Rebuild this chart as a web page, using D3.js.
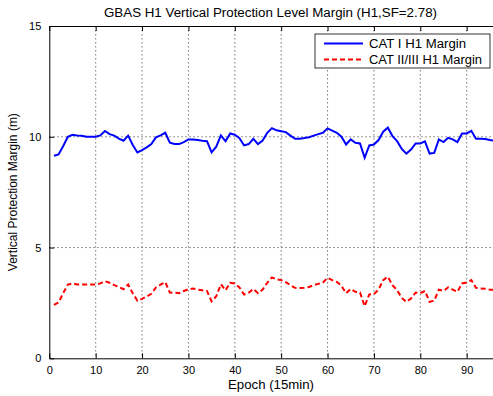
<!DOCTYPE html>
<html><head><meta charset="utf-8">
<script src="https://cdn.jsdelivr.net/npm/d3@7"></script>
<style>
html,body{margin:0;padding:0;background:#fff;}
svg{display:block;font-family:"Liberation Sans",Arial,sans-serif;}
</style></head>
<body>
<svg id="c" width="493" height="396"></svg>
<script>
const epochs = d3.range(1, 97);
const catI = [9.14,9.2,9.58,10.0,10.09,10.06,10.05,10.0,10.0,10.0,
  10.06,10.26,10.12,10.05,9.92,9.82,10.05,9.63,9.29,9.4,
  9.52,9.67,9.97,10.06,10.18,9.73,9.67,9.67,9.76,9.88,
  9.88,9.85,9.82,9.8,9.3,9.55,10.06,9.8,10.15,10.09,
  9.94,9.61,9.67,9.91,9.67,9.83,10.18,10.39,10.29,10.25,
  10.21,10.05,9.91,9.91,9.94,9.98,10.05,10.12,10.18,10.38,
  10.28,10.18,10.0,9.65,9.88,9.73,9.7,9.05,9.61,9.65,
  9.85,10.23,10.41,10.03,9.8,9.45,9.24,9.42,9.7,9.7,
  9.79,9.24,9.27,9.88,9.76,9.95,9.88,9.76,10.15,10.15,
  10.27,9.91,9.91,9.9,9.85,9.82];
const catII = [2.41,2.52,2.94,3.33,3.38,3.33,3.33,3.33,3.33,3.33,
  3.38,3.48,3.41,3.3,3.22,3.12,3.33,2.94,2.6,2.68,
  2.79,2.91,3.2,3.33,3.44,2.97,2.96,2.94,3.04,3.12,
  3.15,3.1,3.07,3.04,2.57,2.8,3.34,3.07,3.41,3.38,
  3.2,2.88,2.96,3.13,2.94,3.1,3.41,3.65,3.56,3.53,
  3.44,3.3,3.18,3.17,3.18,3.22,3.3,3.36,3.42,3.63,
  3.53,3.45,3.27,2.94,3.13,3.0,2.97,2.35,2.88,2.9,
  3.1,3.53,3.68,3.3,3.07,2.73,2.55,2.7,2.97,2.94,
  3.04,2.55,2.6,3.1,3.04,3.2,3.1,3.0,3.38,3.42,
  3.53,3.18,3.15,3.14,3.1,3.1];
const xTicks = [0,10,20,30,40,50,60,70,80,90];
const yTicks = [0,5,10,15];
const seriesNames = ["CAT I H1 Margin","CAT II/III H1 Margin"];
const titleText = "GBAS H1 Vertical Protection Level Margin (H1,SF=2.78)";

const svg = d3.select("#c");
const L = 49.3, R = 494.5, T = 26, B = 358.3;
const x = d3.scaleLinear().domain([0,96]).range([L,R]);
const y = d3.scaleLinear().domain([0,15]).range([B,T]);

// grid
const g = svg.append("g");
g.selectAll(".gx").data(xTicks.filter(d=>d>0)).join("line")
  .attr("x1",d=>x(d)).attr("x2",d=>x(d)).attr("y1",T).attr("y2",B)
  .attr("stroke","#555").attr("stroke-width",0.8).attr("stroke-dasharray","1.5,2.5");
g.selectAll(".gy").data(yTicks.filter(d=>d>0&&d<15)).join("line")
  .attr("x1",L).attr("x2",R).attr("y1",d=>y(d)).attr("y2",d=>y(d))
  .attr("stroke","#555").attr("stroke-width",0.8).attr("stroke-dasharray","1.5,2.5");

// axes
const fs = "11px";
const xAxis = svg.append("g").attr("transform",`translate(0,${B})`)
  .call(d3.axisBottom(x).tickValues(xTicks).tickSizeInner(-5).tickSizeOuter(0).tickPadding(8));
const xTop = svg.append("g").attr("transform",`translate(0,${T})`)
  .call(d3.axisTop(x).tickValues(xTicks).tickSizeInner(-5).tickSizeOuter(0).tickFormat(""));
const yAxis = svg.append("g").attr("transform",`translate(${L},0)`)
  .call(d3.axisLeft(y).tickValues(yTicks).tickSizeInner(-5).tickSizeOuter(0).tickPadding(8));
[xAxis,xTop,yAxis].forEach(a=>{
  a.selectAll("text").attr("font-size",fs).attr("fill","#000").attr("font-family","Liberation Sans, Arial, sans-serif");
  a.select(".domain").attr("stroke","#000");
  a.selectAll(".tick line").attr("stroke","#000");
});

// lines
const line = d3.line().x((d,i)=>x(epochs[i])).y(d=>y(d));
svg.append("path").datum(catI).attr("d",line).attr("fill","none")
  .attr("stroke","#0000ff").attr("stroke-width",2);
svg.append("path").datum(catII).attr("d",line).attr("fill","none")
  .attr("stroke","#ff0000").attr("stroke-width",2).attr("stroke-dasharray","5,3");

// title & labels
svg.append("text").attr("x",270.5).attr("y",17).attr("text-anchor","middle")
  .attr("font-size","12.5px").attr("textLength",333).attr("lengthAdjust","spacingAndGlyphs").text(titleText);
svg.append("text").attr("x",271).attr("y",389).attr("text-anchor","middle")
  .attr("font-size","12.5px").attr("textLength",86).attr("lengthAdjust","spacingAndGlyphs").text("Epoch (15min)");
svg.append("text").attr("transform",`translate(17,${(T+B)/2}) rotate(-90)`).attr("text-anchor","middle")
  .attr("font-size","12px").text("Vertical Protection Margin (m)");

// legend
const lg = svg.append("g");
lg.append("rect").attr("x",315).attr("y",34).attr("width",175).attr("height",34)
  .attr("fill","#fff").attr("stroke","#000").attr("stroke-width",0.8);
const styles = [{c:"#0000ff",d:null,w:97},{c:"#ff0000",d:"5,3",w:113}];
seriesNames.forEach((n,i)=>{
  const yy = 43.5 + i*16;
  const ln = lg.append("line").attr("x1",324).attr("x2",363).attr("y1",yy).attr("y2",yy)
    .attr("stroke",styles[i].c).attr("stroke-width",2);
  if (styles[i].d) ln.attr("stroke-dasharray",styles[i].d);
  lg.append("text").attr("x",369).attr("y",yy+4.5).attr("font-size","12.5px")
    .attr("textLength",styles[i].w).attr("lengthAdjust","spacingAndGlyphs").text(n);
});
</script>
</body></html>
